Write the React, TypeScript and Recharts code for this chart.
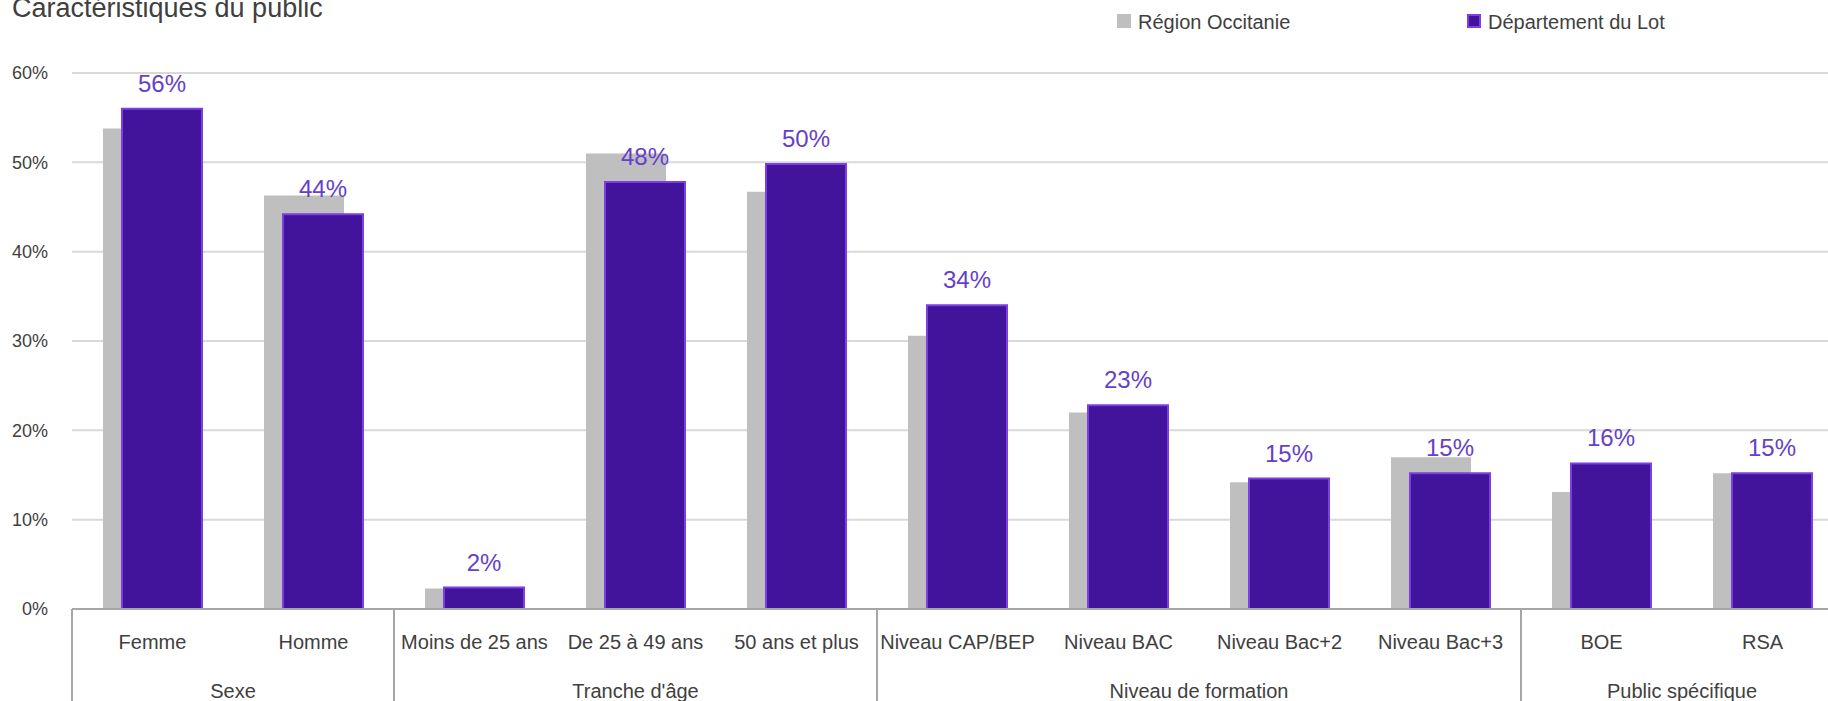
import React from 'react'
import {
  BarChart, Bar, XAxis, YAxis, CartesianGrid, LabelList,
} from 'recharts'

const categories = [
  'Femme', 'Homme',
  'Moins de 25 ans', 'De 25 à 49 ans', '50 ans et plus',
  'Niveau CAP/BEP', 'Niveau BAC', 'Niveau Bac+2', 'Niveau Bac+3',
  'BOE', 'RSA',
]
const groups = [
  'Sexe', 'Sexe',
  "Tranche d'âge", "Tranche d'âge", "Tranche d'âge",
  'Niveau de formation', 'Niveau de formation', 'Niveau de formation', 'Niveau de formation',
  'Public spécifique', 'Public spécifique',
]
const regionOccitanie = [53.8, 46.3, 2.3, 51.0, 46.7, 30.6, 22.0, 14.2, 17.0, 13.1, 15.2]
const departementLot  = [56.0, 44.2, 2.4, 47.8, 49.8, 34.0, 22.8, 14.6, 15.2, 16.3, 15.2]
const yTicks = [0, 10, 20, 30, 40, 50, 60]

const GRIS    = '#BFBFBF'
const VIOLET  = '#42149B'
const BORD    = '#7B3FE3'
const LABEL   = '#6441C8'
const TEXTE   = '#404040'
const FONT    = '"Liberation Sans", Arial, sans-serif'

const data = categories.map((c, i) => ({
  cat: c,
  groupe: groups[i],
  region: regionOccitanie[i],
  lot: departementLot[i],
}))

const TickCategorie = (props: any) => {
  const { x, y, payload, index } = props
  const band = payload?.offset ? payload.offset * 2 : 161
  const g = groups[index]
  const debut = index === 0 || groups[index - 1] !== g
  const fin = index === groups.length - 1 || groups[index + 1] !== g
  let n = 0
  for (let k = index; k < groups.length && groups[k] === g; k++) n++
  return (
    <g>
      <text x={x} y={y + 40} textAnchor="middle" fill={TEXTE} fontSize={20} fontFamily={FONT}>
        {payload.value}
      </text>
      {debut && (
        <>
          <line x1={x - band / 2} x2={x - band / 2} y1={y} y2={y + 160} stroke="#A6A6A6" strokeWidth={2} />
          <text x={x + ((n - 1) * band) / 2} y={y + 89} textAnchor="middle" fill={TEXTE} fontSize={20} fontFamily={FONT}>
            {g}
          </text>
        </>
      )}
      {fin && (
        <line x1={x + band / 2} x2={x + band / 2} y1={y} y2={y + 160} stroke="#A6A6A6" strokeWidth={2} />
      )}
    </g>
  )
}

export default function App() {
  return (
    <div style={{ position: 'absolute', left: 0, top: 0, width: 1828, height: 701, overflow: 'hidden', background: '#fff' }}>
      <div style={{ position: 'absolute', left: 0, top: 0 }}>
        <BarChart
          width={1900}
          height={780}
          data={data}
          margin={{ top: 73, right: 57, left: 0, bottom: 71 }}
          barSize={80}
          barGap={-61}
        >
          <CartesianGrid vertical={false} stroke="#D9D9D9" strokeWidth={2} />
          <XAxis
            dataKey="cat"
            interval={0}
            tickLine={false}
            tickSize={0}
            tickMargin={0}
            height={100}
            axisLine={{ stroke: '#A6A6A6', strokeWidth: 2 }}
            tick={<TickCategorie />}
          />
          <YAxis
            width={72}
            domain={[0, 60]}
            ticks={yTicks}
            tickFormatter={v => `${v}%`}
            axisLine={false}
            tickLine={false}
            tickSize={0}
            tickMargin={24}
            tick={{ fill: TEXTE, fontSize: 18, fontFamily: FONT }}
          />
          <Bar dataKey="region" name="Région Occitanie" fill={GRIS} isAnimationActive={false} />
          <Bar dataKey="lot" name="Département du Lot" fill={VIOLET} stroke={BORD} strokeWidth={2} isAnimationActive={false}>
            <LabelList
              dataKey="lot"
              position="top"
              offset={17}
              formatter={(v: any) => `${Math.round(Number(v))}%`}
              style={{ fill: LABEL, fontSize: 24, fontFamily: FONT }}
            />
          </Bar>
        </BarChart>
      </div>
      <svg width={1828} height={60} style={{ position: 'absolute', left: 0, top: 0 }}>
        <text x={12} y={17} fill={TEXTE} fontSize={27} fontFamily={FONT}>Caractéristiques du public</text>
        <rect x={1117} y={14} width={14} height={14} fill={GRIS} />
        <text x={1138} y={29} fill={TEXTE} fontSize={20} fontFamily={FONT}>Région Occitanie</text>
        <rect x={1468} y={15} width={12} height={12} fill={VIOLET} stroke={BORD} strokeWidth={2} />
        <text x={1488} y={29} fill={TEXTE} fontSize={20} fontFamily={FONT}>Département du Lot</text>
      </svg>
    </div>
  )
}
